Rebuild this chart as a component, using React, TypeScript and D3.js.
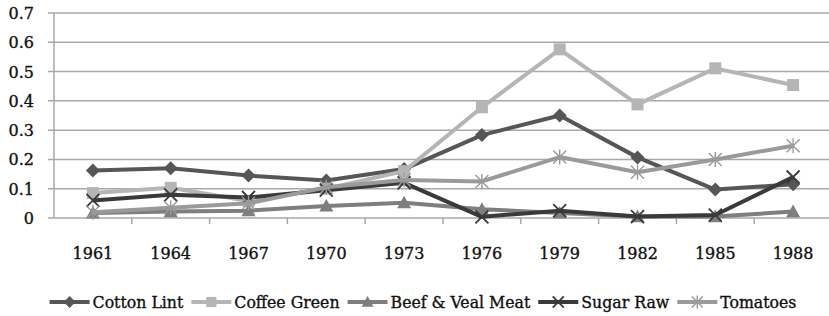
import React, { useEffect, useRef } from 'react';
import * as d3 from 'd3';

const years = ['1961', '1964', '1967', '1970', '1973', '1976', '1979', '1982', '1985', '1988'];
const yTicks = [0, 0.1, 0.2, 0.3, 0.4, 0.5, 0.6, 0.7];

const cottonLint = [0.162, 0.17, 0.145, 0.128, 0.167, 0.283, 0.35, 0.207, 0.097, 0.115];
const coffeeGreen = [0.085, 0.103, 0.058, 0.1, 0.16, 0.378, 0.576, 0.388, 0.511, 0.454];
const beefVeal = [0.017, 0.022, 0.025, 0.041, 0.052, 0.03, 0.017, 0.005, 0.005, 0.022];
const sugarRaw = [0.06, 0.079, 0.07, 0.095, 0.12, 0.004, 0.025, 0.005, 0.01, 0.14];
const tomatoes = [0.02, 0.035, 0.05, 0.105, 0.13, 0.125, 0.208, 0.156, 0.2, 0.247];

const seriesNames = ['Cotton Lint', 'Coffee Green', 'Beef & Veal Meat', 'Sugar Raw', 'Tomatoes'];
const seriesValues = [cottonLint, coffeeGreen, beefVeal, sugarRaw, tomatoes];
const seriesColors = ['#565656', '#b5b5b5', '#7e7e7e', '#3a3a3a', '#9a9a9a'];
const seriesMarkers = ['diamond', 'square', 'triangle', 'x', 'star'];

const W = 829;
const H = 316;

function drawMarker(g: any, kind: string, x: number, y: number, color: string, s = 1) {
  if (kind === 'diamond') {
    const r = 7 * s;
    g.append('path')
      .attr('d', `M${x},${y - r}L${x + r},${y}L${x},${y + r}L${x - r},${y}Z`)
      .attr('fill', color);
  } else if (kind === 'square') {
    const r = 6 * s;
    g.append('rect')
      .attr('x', x - r).attr('y', y - r)
      .attr('width', 2 * r).attr('height', 2 * r)
      .attr('fill', color);
  } else if (kind === 'triangle') {
    const r = 7 * s;
    g.append('path')
      .attr('d', `M${x},${y - r}L${x + r},${y + r * 0.8}L${x - r},${y + r * 0.8}Z`)
      .attr('fill', color);
  } else if (kind === 'x') {
    const r = 6.5 * s;
    g.append('path')
      .attr('d', `M${x - r},${y - r}L${x + r},${y + r}M${x - r},${y + r}L${x + r},${y - r}`)
      .attr('stroke', color).attr('stroke-width', 1.8);
  } else {
    const r = 6.5 * s;
    g.append('path')
      .attr('d', `M${x - r},${y - r}L${x + r},${y + r}M${x - r},${y + r}L${x + r},${y - r}M${x},${y - r - 1}L${x},${y + r + 1}`)
      .attr('stroke', color).attr('stroke-width', 1.4);
  }
}

export default function App() {
  const ref = useRef<SVGSVGElement>(null);

  useEffect(() => {
    const svg = d3.select(ref.current);
    svg.selectAll('*').remove();

    const x = d3.scaleBand().domain(years).range([54, 832]);
    const y = d3.scaleLinear().domain([0, 0.7]).range([218, 13]);

    const textStyle = (t: any, size: number) =>
      t.attr('font-family', 'DejaVu Serif').attr('font-size', size)
        .attr('fill', '#111').attr('stroke', '#111').attr('stroke-width', 0.35);

    // grid
    const grid = svg.append('g');
    yTicks.forEach((t) => {
      grid.append('line')
        .attr('x1', 48).attr('x2', W)
        .attr('y1', y(t)).attr('y2', y(t))
        .attr('stroke', '#a8a8a8').attr('stroke-width', 1.5);
      textStyle(svg.append('text'), 16)
        .attr('x', 34).attr('y', y(t) + 6)
        .attr('text-anchor', 'end')
        .text(t === 0 ? '0' : t.toFixed(1));
    });
    grid.append('line')
      .attr('x1', 54).attr('x2', 54).attr('y1', y(0.7)).attr('y2', y(0))
      .attr('stroke', '#a8a8a8').attr('stroke-width', 1.5);
    years.forEach((yr, i) => {
      if (i > 0) {
        grid.append('line')
          .attr('x1', x(yr)!).attr('x2', x(yr)!)
          .attr('y1', y(0)).attr('y2', y(0) + 6)
          .attr('stroke', '#a8a8a8').attr('stroke-width', 1.5);
      }
      textStyle(svg.append('text'), 16)
        .attr('x', x(yr)! + x.bandwidth() / 2).attr('y', 259)
        .attr('text-anchor', 'middle')
        .text(yr);
    });

    const line = d3.line<number>()
      .x((_, i) => x(years[i])! + x.bandwidth() / 2)
      .y((d) => y(d));

    seriesValues.forEach((vals, si) => {
      const g = svg.append('g');
      g.append('path')
        .attr('d', line(vals))
        .attr('fill', 'none')
        .attr('stroke', seriesColors[si])
        .attr('stroke-width', 4)
        .attr('stroke-linejoin', 'round');
      vals.forEach((v, i) => {
        drawMarker(g, seriesMarkers[si], x(years[i])! + x.bandwidth() / 2, y(v), seriesColors[si]);
      });
    });

    // legend
    const leg = svg.append('g');
    let cx = 0;
    seriesNames.forEach((name, si) => {
      const item = leg.append('g').attr('transform', `translate(${cx},0)`);
      item.append('line')
        .attr('x1', 0).attr('x2', 40).attr('y1', 0).attr('y2', 0)
        .attr('stroke', seriesColors[si]).attr('stroke-width', 4);
      drawMarker(item, seriesMarkers[si], 20, 0, seriesColors[si], 0.85);
      const t = textStyle(item.append('text'), 17.5)
        .attr('x', 43).attr('y', 6)
        .attr('font-stretch', 'condensed')
        .text(name);
      const tw = (t.node() as SVGTextElement).getComputedTextLength();
      cx += 43 + tw + 8;
    });
    const total = cx - 8;
    leg.attr('transform', `translate(${423 - total / 2},302)`);
  }, []);

  return (
    <svg
      ref={ref}
      width={W}
      height={H}
      style={{ position: 'absolute', left: 0, top: 0, background: '#fff' }}
    />
  );
}
